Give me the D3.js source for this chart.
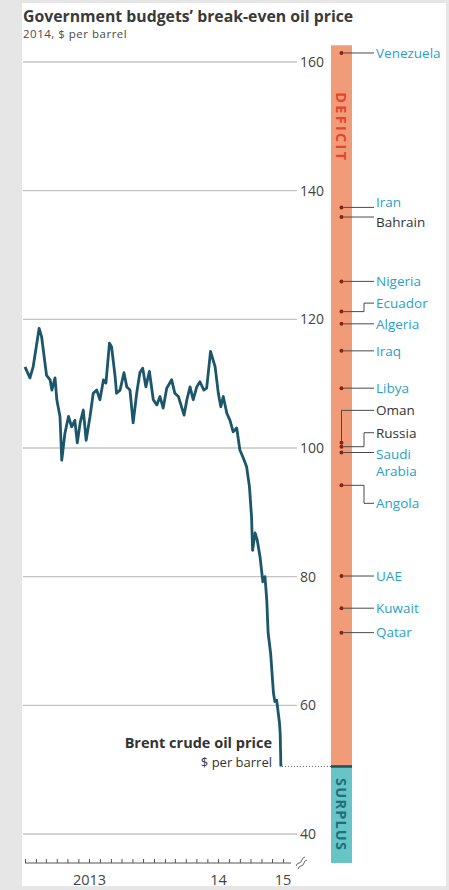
<!DOCTYPE html>
<html>
<head>
<meta charset="utf-8">
<script src="https://cdn.jsdelivr.net/npm/d3@7"></script>
<style>
  html, body { margin: 0; padding: 0; background: #e6e6e6; }
  svg { display: block; }
  text { font-family: "Open Sans", "Liberation Sans", sans-serif; }
</style>
</head>
<body>
<svg id="chart" width="449" height="890"></svg>
<script>
// Brent crude, $ per barrel (weekly-ish readings)
const brentDates = [
  "2013-01-01","2013-01-15","2013-01-24","2013-02-10","2013-02-17","2013-03-03","2013-03-13","2013-03-18",
  "2013-03-27","2013-04-01","2013-04-10","2013-04-15","2013-04-24","2013-05-04","2013-05-13","2013-05-22",
  "2013-05-29","2013-06-06","2013-06-15","2013-06-23","2013-07-04","2013-07-13","2013-07-23","2013-08-01",
  "2013-08-11","2013-08-18","2013-08-28","2013-09-03","2013-09-13","2013-09-17","2013-09-27","2013-10-08",
  "2013-10-16","2013-10-25","2013-11-03","2013-11-13","2013-11-22","2013-11-30","2013-12-09","2013-12-19",
  "2013-12-30","2014-01-09","2014-01-18","2014-01-27","2014-02-06","2014-02-20","2014-03-01","2014-03-11",
  "2014-03-20","2014-03-27","2014-04-04","2014-04-13","2014-04-22","2014-05-02","2014-05-11","2014-05-22",
  "2014-05-30","2014-06-10","2014-06-23","2014-07-02","2014-07-09","2014-07-16","2014-07-26","2014-08-04",
  "2014-08-13","2014-08-23","2014-09-01","2014-09-11","2014-09-20","2014-09-28","2014-10-04","2014-10-07",
  "2014-10-14","2014-10-20","2014-10-28","2014-11-05","2014-11-11","2014-11-16","2014-11-20","2014-11-27",
  "2014-12-05","2014-12-09","2014-12-14","2014-12-22","2014-12-24","2014-12-26"
];
const brentPrices = [
  112.6,110.9,112.6,118.6,117.3,111.3,110.6,109.0,
  110.9,107.5,104.9,98.1,102.3,104.9,103.3,104.3,
  100.8,103.9,105.9,101.2,104.9,108.5,109.0,107.5,
  110.6,110.1,116.3,115.7,111.1,108.5,109.0,111.7,
  109.5,109.0,103.9,108.5,111.7,112.4,109.5,111.9,
  107.5,106.7,108.0,106.2,109.3,110.6,108.5,108.0,
  106.4,105.1,107.5,109.5,107.5,109.5,110.3,109.0,
  109.3,115.0,112.6,108.5,106.4,108.0,105.4,104.3,
  102.5,103.1,99.7,98.4,97.1,94.0,89.3,84.1,
  86.8,85.7,83.1,79.2,80.0,76.4,71.2,68.1,
  61.9,60.6,60.8,57.3,55.7,50.5
];

// Break-even oil price by country, 2014
const countries = ["Venezuela","Iran","Bahrain","Nigeria","Ecuador","Algeria","Iraq","Libya",
                   "Oman","Russia","Saudi Arabia","Angola","UAE","Kuwait","Qatar"];
const breakEven = [161.4,137.4,135.9,125.9,121.2,119.3,115.1,109.3,
                   100.8,100.2,99.3,94.2,80.1,75.1,71.3];
const highlighted = ["Bahrain","Oman","Russia"];

const yTicks = [40,60,80,100,120,140,160];
const yearLabels = ["2013","14","15"];
const barRange = [35.5, 162.6];

// label offsets (px) for crowded entries: elbow leaders, or text nudged off a straight leader
const labelShift = { "Ecuador": -8.5, "Oman": -32.5, "Russia": -14, "Angola": 18 };
const textNudge = { "Iran": -5, "Bahrain": 5, "Saudi Arabia": 2 };

const svg = d3.select("#chart");

// panel
svg.append("rect").attr("x", 22).attr("y", 3).attr("width", 424).attr("height", 883).attr("fill", "#ffffff");

const parse = d3.timeParse("%Y-%m-%d");
const brent = brentDates.map((d, i) => ({ date: parse(d), value: brentPrices[i] }));

const x = d3.scaleTime().domain([new Date(2013,0,1), new Date(2015,0,1)]).range([25, 283]);
const y = d3.scaleLinear().domain([40,160]).range([834, 62]);

// title
svg.append("text").attr("x", 23).attr("y", 22)
  .attr("font-size", 15.8).attr("font-weight", 700).attr("fill", "#3a3a3a")
  .text("Government budgets\u2019 break-even oil price");
svg.append("text").attr("x", 23).attr("y", 38)
  .attr("font-size", 11.5).attr("letter-spacing", 0.5).attr("fill", "#4a4a4a")
  .text("2014, $ per barrel");

// gridlines and value labels
const grid = svg.append("g");
grid.selectAll("line").data(yTicks).join("line")
  .attr("x1", 23).attr("x2", 297)
  .attr("y1", d => y(d)).attr("y2", d => y(d))
  .attr("stroke", "#c4c4c4").attr("stroke-width", 1.3);
grid.selectAll("text").data(yTicks).join("text")
  .attr("x", 300).attr("y", d => y(d)).attr("dy", "0.36em")
  .attr("font-size", 14).attr("fill", "#444")
  .text(d => d);

// x axis
const axisY = 863;
const xAxis = d3.axisTop(x)
  .ticks(d3.timeMonth.every(1))
  .tickSize(4)
  .tickFormat("");
const ax = svg.append("g").attr("transform", `translate(0,${axisY})`).call(xAxis);
ax.select(".domain").attr("d", `M${x.range()[0]},0H${x.range()[1] + 8}`).attr("stroke", "#555");
ax.selectAll(".tick line").attr("stroke", "#555").attr("stroke-width", 1);

// axis break symbol
svg.append("path")
  .attr("d", "M296,866 q1,-3 3,-3 q2,0 3,-3 q1,-3 3,-3 M298,869 q1,-3 3,-3 q2,0 3,-3 q1,-3 3,-3")
  .attr("fill", "none").attr("stroke", "#666").attr("stroke-width", 1);

const yearPos = [
  (x(new Date(2013,0,1)) + x(new Date(2014,0,1))) / 2,
  (x(new Date(2014,0,1)) + x(new Date(2015,0,1))) / 2,
  x(new Date(2015,0,1))
];
svg.append("g").selectAll("text").data(yearLabels).join("text")
  .attr("x", (d, i) => yearPos[i]).attr("y", 885)
  .attr("text-anchor", "middle").attr("font-size", 14.5).attr("fill", "#444")
  .text(d => d);

// bar: deficit above current Brent price, surplus below
const barX = 331, barW = 21, barCx = barX + barW / 2;
const last = brent[brent.length - 1];
svg.append("rect").attr("x", barX).attr("width", barW)
  .attr("y", y(barRange[1])).attr("height", y(last.value) - y(barRange[1]))
  .attr("fill", "#f19c79");
svg.append("rect").attr("x", barX).attr("width", barW)
  .attr("y", y(last.value)).attr("height", y(barRange[0]) - y(last.value))
  .attr("fill", "#68c4c7");
svg.append("line").attr("x1", barX).attr("x2", barX + barW)
  .attr("y1", y(last.value)).attr("y2", y(last.value))
  .attr("stroke", "#1d4f5c").attr("stroke-width", 2.5);

svg.append("text")
  .attr("transform", `translate(${barCx},${y(155.3)}) rotate(90)`)
  .attr("dy", "0.36em")
  .attr("font-size", 14.5).attr("font-weight", 700).attr("letter-spacing", 2.3)
  .attr("fill", "#e5452d").text("DEFICIT");
svg.append("text")
  .attr("transform", `translate(${barCx},${y(48.7)}) rotate(90)`)
  .attr("dy", "0.36em")
  .attr("font-size", 14.5).attr("font-weight", 700).attr("letter-spacing", 1.2)
  .attr("fill", "#1f6f78").text("SURPLUS");

// dotted link from the latest price to the bar
svg.append("line")
  .attr("x1", x(last.date) + 1).attr("x2", barX)
  .attr("y1", y(last.value)).attr("y2", y(last.value))
  .attr("stroke", "#555").attr("stroke-width", 1).attr("stroke-dasharray", "1,2");

// Brent line
const line = d3.line().x(d => x(d.date)).y(d => y(d.value)).curve(d3.curveLinear);
svg.append("path").datum(brent)
  .attr("d", line).attr("fill", "none")
  .attr("stroke", "#1b566a").attr("stroke-width", 2.8).attr("stroke-linejoin", "round");

svg.append("text").attr("x", 272).attr("y", 748).attr("text-anchor", "end")
  .attr("font-size", 14.5).attr("font-weight", 700).attr("fill", "#333")
  .text("Brent crude oil price");
svg.append("text").attr("x", 272).attr("y", 767).attr("text-anchor", "end")
  .attr("font-size", 13).attr("fill", "#333")
  .text("$ per barrel");

// country markers, leaders and labels
const labelX = 376, elbowX = 364;
const cg = svg.append("g");
countries.forEach((name, i) => {
  const dy = y(breakEven[i]);
  const shift = labelShift[name] || 0;
  const ly = dy + shift;
  const col = highlighted.includes(name) ? "#333" : "#2a9fc8";
  let path;
  if (name === "Oman") {
    path = `M${barCx},${dy}V${ly}H${labelX - 2}`;
  } else if (shift !== 0) {
    path = `M${barCx + 2},${dy}H${elbowX}V${ly}H${labelX - 2}`;
  } else {
    path = `M${barCx + 2},${dy}H${labelX - 2}`;
  }
  cg.append("path").attr("d", path).attr("fill", "none")
    .attr("stroke", "#4a4a4a").attr("stroke-width", 1);
  cg.append("circle").attr("cx", barCx).attr("cy", dy).attr("r", 2)
    .attr("fill", "#8a1f14");
  const words = name === "Saudi Arabia" ? ["Saudi", "Arabia"] : [name];
  const t = cg.append("text").attr("x", labelX).attr("y", ly + (textNudge[name] || 0))
    .attr("font-size", 13.5).attr("fill", col);
  words.forEach((w, k) => {
    t.append("tspan").attr("x", labelX).attr("dy", k === 0 ? "0.36em" : "1.25em").text(w);
  });
});
</script>
</body>
</html>
